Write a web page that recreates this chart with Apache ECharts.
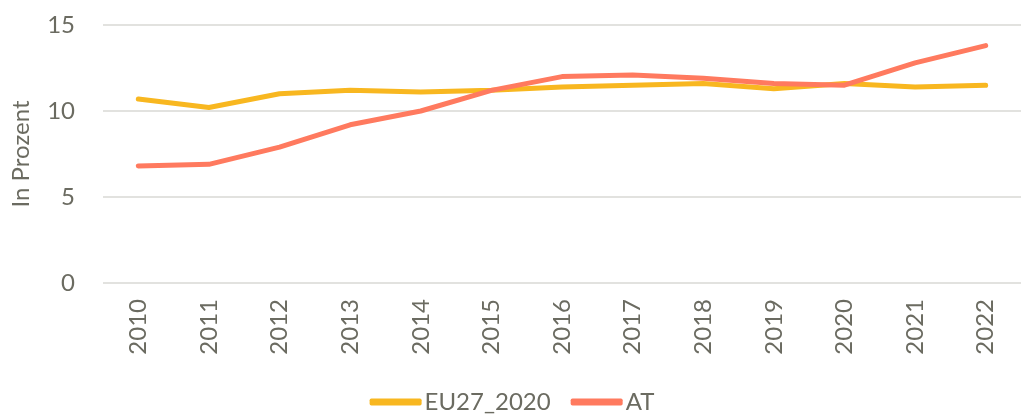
<!DOCTYPE html>
<html>
<head>
<meta charset="utf-8">
<script src="https://cdn.jsdelivr.net/npm/echarts@6/dist/echarts.min.js"></script>
<style>
  html, body { margin: 0; padding: 0; background: #fff; }
  #chart { width: 1024px; height: 417px; }
</style>
</head>
<body>
<div id="chart"></div>
<script>
// Years on the category axis
const years = ['2010', '2011', '2012', '2013', '2014', '2015', '2016', '2017', '2018', '2019', '2020', '2021', '2022'];
// Share in percent
const eu27 = [10.7, 10.2, 11.0, 11.2, 11.1, 11.2, 11.4, 11.5, 11.6, 11.3, 11.6, 11.4, 11.5];
const at = [6.8, 6.9, 7.9, 9.2, 10.0, 11.2, 12.0, 12.1, 11.9, 11.6, 11.5, 12.8, 13.8];
const yTicks = [0, 5, 10, 15];

const textColor = '#6b6b61';
const font = 'Lato, "Open Sans", sans-serif';

const chart = echarts.init(document.getElementById('chart'));
chart.setOption({
  animation: false,
  textStyle: { fontFamily: font },
  grid: { left: 103, right: 3, top: 25, bottom: 134, containLabel: false },
  legend: {
    bottom: -2,
    left: 'center',
    itemWidth: 52,
    itemHeight: 7,
    itemGap: 20,
    icon: 'roundRect',
    textStyle: { color: textColor, fontSize: 24, fontFamily: font, padding: [0, 0, 0, -2] },
    data: ['EU27_2020', 'AT']
  },
  xAxis: {
    type: 'category',
    data: years,
    boundaryGap: true,
    axisLine: { show: false },
    axisTick: { show: false },
    axisLabel: { rotate: 90, color: textColor, fontSize: 24, margin: 16, fontFamily: font }
  },
  yAxis: {
    type: 'value',
    min: yTicks[0],
    max: yTicks[yTicks.length - 1],
    interval: 5,
    name: 'In Prozent',
    nameLocation: 'middle',
    nameGap: 70,
    nameRotate: 90,
    nameTextStyle: { color: textColor, fontSize: 24, fontFamily: font },
    axisLine: { show: false },
    axisTick: { show: false },
    axisLabel: { color: textColor, fontSize: 24, margin: 28, fontFamily: font },
    splitLine: { lineStyle: { color: '#d9d9d4', width: 1.5 } }
  },
  series: [
    {
      name: 'EU27_2020',
      type: 'line',
      data: eu27,
      symbol: 'none',
      lineStyle: { color: '#f8b720', width: 5, cap: 'round', join: 'round' },
      itemStyle: { color: '#f8b720' }
    },
    {
      name: 'AT',
      type: 'line',
      data: at,
      symbol: 'none',
      lineStyle: { color: '#ff7a5f', width: 5, cap: 'round', join: 'round' },
      itemStyle: { color: '#ff7a5f' }
    }
  ]
});
</script>
</body>
</html>
